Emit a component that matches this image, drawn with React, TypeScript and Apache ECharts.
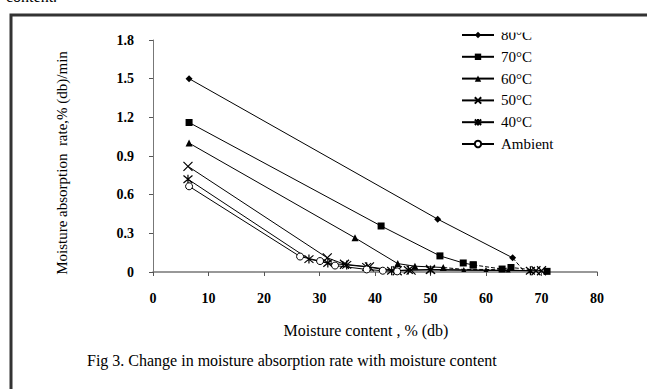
import React, { useEffect, useRef } from "react";
import * as echarts from "echarts";

const xTicks = [0, 10, 20, 30, 40, 50, 60, 70, 80];
const yTicks = [0, 0.3, 0.6, 0.9, 1.2, 1.5, 1.8];

const s80: number[][] = [[6.5, 1.5], [51.3, 0.41], [64.8, 0.11]];
const s80Tail: number[][] = [[64.8, 0.11], [66.8, 0.01]];
const s70: number[][] = [[6.5, 1.16], [41.1, 0.357], [51.7, 0.125], [55.9, 0.07], [57.7, 0.055]];
const s70Tail: number[][] = [[57.7, 0.055], [62.9, 0.023], [64.5, 0.035], [71, 0.005]];
const s60: number[][] = [[6.5, 1.0], [36.4, 0.265], [44.1, 0.065], [47.2, 0.045], [52.3, 0.035]];
const s60Tail: number[][] = [[52.3, 0.035], [56, 0.02], [60, 0.02], [64, 0.015], [68, 0.01]];
const s50: number[][] = [[6.3, 0.82], [31.4, 0.11], [34.5, 0.06], [39, 0.04], [44, 0.01], [46.5, 0.015], [50, 0.02], [69, 0.01], [70, 0.01]];
const s40: number[][] = [[6.3, 0.72], [28.1, 0.1], [31.5, 0.07], [34.9, 0.055], [38.5, 0.04], [43, 0.01], [46, 0.015], [50, 0.015], [68, 0.01]];
const sAmb: number[][] = [[6.5, 0.665], [26.5, 0.12], [30.1, 0.085], [32.8, 0.05], [38.5, 0.02], [41.4, 0.01], [44, 0.005]];

const names = ["80°C", "70°C", "60°C", "50°C", "40°C", "Ambient"];
const xTitle = "Moisture content , % (db)";
const yTitle = "Moisture absorption  rate,% (db)/min";
const caption = "Fig 3. Change in moisture absorption rate with moisture content";

const FONT = "Liberation Serif";
const X_PATH = "path://M0,0L10,10M10,0L0,10";
const STAR_PATH = "path://M0,0L10,10M10,0L0,10M5,-1L5,11";

export default function App() {
  const ref = useRef<HTMLDivElement>(null);
  useEffect(() => {
    document.body.style.margin = "0";
    const chart = echarts.init(ref.current!, null, { renderer: "svg" });
    const lineBase = { color: "#000", width: 1 };
    const solid = (name: string, data: number[][], symbol: string, size: number, itemStyle: any) => ({
      name,
      type: "line",
      data,
      symbol,
      symbolSize: size,
      showSymbol: true,
      lineStyle: lineBase,
      itemStyle,
      z: 3,
    });
    const filled = { color: "#000" };
    const hollow = { color: "#fff", borderColor: "#000", borderWidth: 1 };
    const stroke = { color: "none", borderColor: "#000", borderWidth: 1.2 };
    chart.setOption({
      animation: false,
      grid: { left: 153, right: 50, top: 40, bottom: 117 },
      legend: {
        data: names,
        orient: "vertical",
        left: 461,
        top: 27.5,
        padding: 0,
        itemWidth: 32,
        itemHeight: 8,
        itemGap: 6.8,
        textStyle: { fontFamily: FONT, fontSize: 15, color: "#000", padding: [0, 0, 0, 2] },
      },
      xAxis: {
        type: "value",
        min: 0,
        max: 80,
        interval: 10,
        axisLine: { lineStyle: { color: "#777", width: 1.5 } },
        axisTick: { show: true, inside: false, length: 4, lineStyle: { color: "#555" } },
        axisLabel: {
          fontFamily: FONT,
          fontSize: 14,
          fontWeight: "bold",
          color: "#000",
          margin: 19,
          formatter: (v: number) => (xTicks.includes(v) ? String(v) : ""),
        },
        splitLine: { show: false },
      },
      yAxis: {
        type: "value",
        min: 0,
        max: 1.8,
        interval: 0.3,
        axisLine: { show: true, lineStyle: { color: "#777", width: 1 } },
        axisTick: { show: true, inside: false, length: 4, lineStyle: { color: "#555" } },
        axisLabel: {
          fontFamily: FONT,
          fontSize: 14,
          fontWeight: "bold",
          color: "#000",
          margin: 19,
          formatter: (v: number) => {
            const t = yTicks.find((y) => Math.abs(y - v) < 1e-6);
            return t === undefined ? "" : t === 0 ? "0" : t.toFixed(1);
          },
        },
        splitLine: { show: false },
      },
      graphic: [
        {
          type: "rect",
          shape: { x: 11, y: 15, width: 800, height: 600 },
          style: { fill: "none", stroke: "#333", lineWidth: 3 },
          z: 100,
        },
        {
          type: "text",
          x: 366,
          y: 330,
          style: {
            text: xTitle,
            fontFamily: FONT,
            fontSize: 16,
            fill: "#000",
            align: "center",
            verticalAlign: "middle",
          },
        },
        {
          type: "text",
          x: 62,
          y: 163,
          rotation: Math.PI / 2,
          style: {
            text: yTitle,
            fontFamily: FONT,
            fontSize: 15,
            fill: "#000",
            align: "center",
            verticalAlign: "middle",
          },
        },
        {
          type: "text",
          x: 87,
          y: 360,
          style: {
            text: caption,
            fontFamily: FONT,
            fontSize: 16,
            fill: "#000",
            align: "left",
            verticalAlign: "middle",
          },
        },
        {
          type: "text",
          x: 6,
          y: -4,
          style: { text: "content.", fontFamily: FONT, fontSize: 16, fill: "#000", verticalAlign: "middle" },
        },
        {
          type: "rect",
          shape: { x: 496, y: 17, width: 80, height: 15.5 },
          style: { fill: "#fff" },
          z: 99,
        },
      ],
      series: [
        solid(names[0], s80, "diamond", 7, filled),
        solid(names[1], s70, "rect", 7, filled),
        solid(names[2], s60, "triangle", 7, filled),
        solid(names[3], s50, X_PATH, 9, stroke),
        solid(names[4], s40, STAR_PATH, 9, stroke),
        solid(names[5], sAmb, "circle", 7, hollow),
        {
          type: "line",
          data: s80Tail,
          symbol: "none",
          lineStyle: { color: "#000", width: 1, type: "dashed" },
          z: 2,
        },
        {
          type: "line",
          data: s70Tail,
          symbol: "rect",
          symbolSize: 7,
          itemStyle: filled,
          lineStyle: { color: "#000", width: 1, type: "dashed" },
          z: 2,
        },
        {
          type: "line",
          data: s60Tail,
          symbol: "triangle",
          symbolSize: 5,
          itemStyle: filled,
          lineStyle: { color: "#000", width: 1, type: "dashed" },
          z: 2,
        },
      ],
    });
    return () => chart.dispose();
  }, []);
  return <div ref={ref} style={{ width: 647, height: 389 }} />;
}
